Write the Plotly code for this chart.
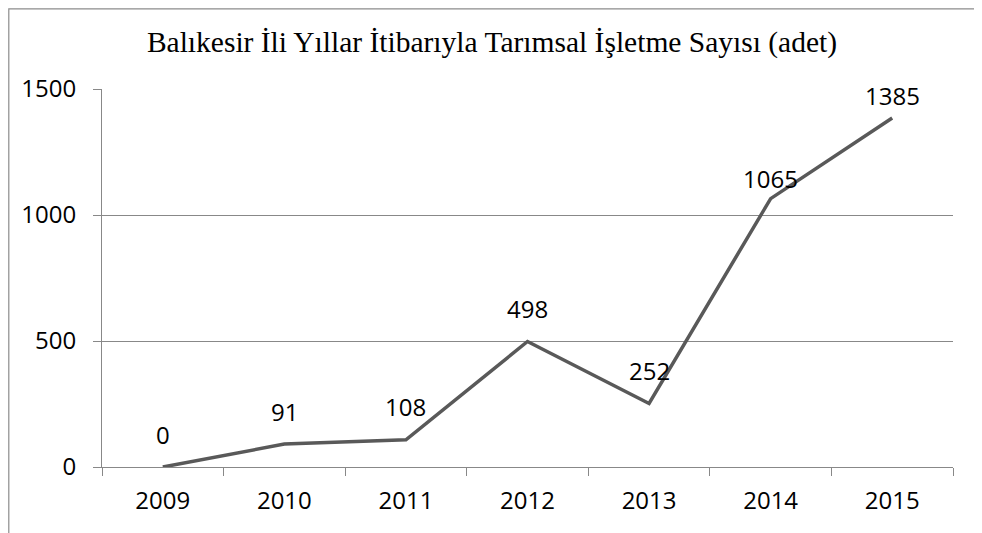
import plotly.graph_objects as go

years = ["2009", "2010", "2011", "2012", "2013", "2014", "2015"]
values = [0, 91, 108, 498, 252, 1065, 1385]
label_shift = [33, 33, 33, 33, 33, 20, 22]
title_text = "Balıkesir İli Yıllar İtibarıyla Tarımsal İşletme Sayısı (adet)"

# page body has an 8px margin, so the figure is sized to fill the window
OFF = 8
W, H = 982 - OFF, 533 - OFF
L, R, T, B = 102 - OFF, 29, 89 - OFF, 66
pw, ph = W - L - R, H - T - B

fig = go.Figure()
fig.add_trace(go.Scatter(
    x=years, y=values, mode="lines",
    line=dict(color="#595959", width=3.5),
    hoverinfo="x+y", showlegend=False,
))

sans = "Open Sans, Liberation Sans, Arial, sans-serif"
for i, (v, s) in enumerate(zip(values, label_shift)):
    fig.add_annotation(x=i, y=v, xref="x", yref="y", text=str(v), showarrow=False,
                       yshift=s, font=dict(family=sans, size=24, color="#000000"))

# outer chart border (cropped at bottom in reference), drawn at the figure edge
bx0, bx1, by1 = 0.8, 980.5 - OFF, 0.8
fig.add_shape(type="rect", xref="paper", yref="paper",
              x0=(bx0 - L) / pw, x1=(bx1 - L) / pw,
              y0=-1.0, y1=1 + (T - by1) / ph,
              line=dict(color="#8c8c8c", width=1.2), fillcolor="rgba(0,0,0,0)",
              layer="below")

fig.update_layout(
    width=W, height=H,
    margin=dict(l=L, r=R, t=T, b=B),
    paper_bgcolor="white", plot_bgcolor="white",
    title=dict(text=title_text, x=(492 - OFF) / W, xref="container", xanchor="center",
               y=1 - (42 - OFF) / H, yanchor="middle",
               font=dict(family="Liberation Serif, Times New Roman, serif", size=29.5, color="#000000")),
    xaxis=dict(type="category", range=[-0.5, 6.5], tickson="boundaries",
               ticks="outside", ticklen=8, tickcolor="#888888", tickwidth=1,
               showline=True, linecolor="#888888", linewidth=1,
               showgrid=False, zeroline=False,
               tickfont=dict(family=sans, size=24, color="#000000"),
               ticklabelstandoff=12),
    yaxis=dict(range=[0, 1500], dtick=500, tick0=0,
               ticks="outside", ticklen=8, tickcolor="#888888", tickwidth=1,
               showline=True, linecolor="#888888", linewidth=1,
               showgrid=True, gridcolor="#888888", gridwidth=1, zeroline=False,
               tickfont=dict(family=sans, size=24, color="#000000"),
               ticklabelstandoff=12),
)

fig.write_html("out.html")
